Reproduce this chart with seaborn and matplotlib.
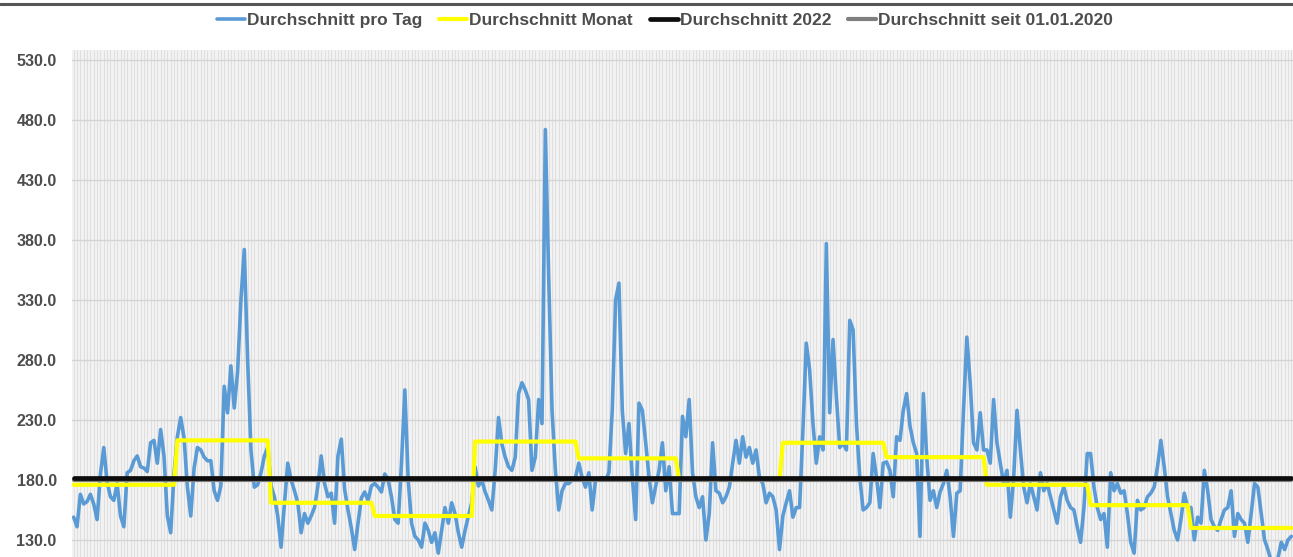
import numpy as np
import pandas as pd
import matplotlib
matplotlib.use("Agg")
import matplotlib.pyplot as plt
import seaborn as sns

# ---- data ----
jan = [149, 141, 168, 160, 162, 168, 160, 147, 185, 207, 178, 166, 163, 177, 150, 141,
       186, 188, 196, 200, 191, 190, 187, 211, 213, 194, 222, 200, 150, 136, 185]
feb = [216, 232, 215, 174, 150, 190, 207, 205, 199, 196, 196, 171, 163, 175, 258, 236,
       275, 240, 270, 330, 372, 280, 205, 174, 176, 186, 200, 207]
mar = [175, 166, 150, 124, 160, 194, 180, 171, 161, 136, 152, 144, 150, 157, 175, 200,
       177, 166, 169, 144, 200, 214, 172, 155, 140, 122, 144, 165, 170, 163, 175]
apr = [177, 174, 170, 185, 180, 166, 147, 144, 194, 255, 180, 144, 133, 130, 124, 144,
       138, 128, 136, 119, 138, 157, 144, 161, 152, 136, 124, 138, 150, 161]
may = [191, 175, 180, 170, 163, 155, 188, 232, 210, 199, 191, 188, 199, 252, 261, 255,
       247, 188, 199, 247, 227, 472, 349, 238, 188, 155, 171, 177, 177, 180, 182]
jun = [194, 182, 174, 186, 155, 180, 180, 182, 180, 186, 238, 330, 344, 238, 202, 227,
       182, 147, 244, 238, 211, 182, 161, 175, 188, 211, 171, 191, 152, 152]
jul = [152, 233, 216, 247, 186, 166, 157, 166, 130, 152, 211, 171, 169, 161, 166, 174,
       194, 213, 194, 216, 199, 207, 194, 205, 182, 177, 161, 169, 166, 155, 122]
aug = [150, 161, 171, 149, 157, 157, 222, 294, 272, 227, 194, 216, 205, 377, 236, 297,
       249, 207, 211, 205, 313, 305, 227, 182, 155, 157, 161, 202, 182, 157, 194]
sep = [195, 188, 166, 216, 213, 238, 252, 225, 211, 202, 133, 252, 199, 163, 171, 157,
       170, 177, 188, 166, 133, 169, 171, 238, 299, 261, 211, 205, 236, 205]
oct_ = [205, 194, 247, 211, 194, 177, 188, 149, 182, 238, 205, 174, 161, 177, 166, 155,
        186, 171, 177, 166, 155, 144, 166, 174, 163, 157, 155, 141, 128, 157, 202]
nov = [202, 174, 157, 147, 152, 124, 186, 171, 177, 169, 171, 152, 128, 119, 163, 155,
       157, 166, 169, 174, 191, 213, 191, 166, 152, 138, 130, 147, 169, 157]
dec = [157, 130, 149, 144, 188, 171, 147, 141, 138, 147, 155, 157, 171, 133, 152, 147,
       144, 128, 152, 177, 174, 152, 130, 122, 112, 108, 115, 128, 122, 130, 133]

monthly_avg = [176, 213, 161, 150, 212, 198, 180, 211, 199, 176, 159, 140]
avg_2022 = 182.0
avg_since_2020 = 180.0

labels = ["Durchschnitt pro Tag", "Durchschnitt Monat",
          "Durchschnitt 2022", "Durchschnitt seit 01.01.2020"]
yticks = [130, 180, 230, 280, 330, 380, 430, 480, 530]

# ---- build table ----
months = [jan, feb, mar, apr, may, jun, jul, aug, sep, oct_, nov, dec]
daily = sum(months, [])
month_len = [len(m) for m in months]
days = np.arange(len(daily))
df = pd.DataFrame({
    "day": days,
    "tag": daily,
    "monat": np.repeat(monthly_avg, month_len),
    "j2022": np.full(len(daily), avg_2022),
    "seit2020": np.full(len(daily), avg_since_2020),
})

sns.set_style("white")
plt.rcParams["font.family"] = ["Liberation Sans", "DejaVu Sans"]

W, H = 1293, 557
fig = plt.figure(figsize=(W / 100, H / 100), dpi=100)
ax = fig.add_axes([72 / W, 0, 1 - 72 / W, 1 - 50 / H])
ax.set_facecolor("#f2f2f2")

# daily vertical grid + horizontal grid
ax.set_xticks(days)
ax.grid(axis="x", color="#dcdcdc", lw=0.6, zorder=0)
ax.set_yticks(yticks)
ax.grid(axis="y", color="#d4d4d4", lw=1.0, zorder=0)
ax.set_axisbelow(True)

sns.lineplot(data=df, x="day", y="tag", ax=ax, color="#5b9bd5", lw=2.6,
             label=labels[0], zorder=3)
sns.lineplot(data=df, x="day", y="monat", ax=ax, color="#ffff00", lw=3.0,
             label=labels[1], zorder=4)
sns.lineplot(data=df, x="day", y="seit2020", ax=ax, color="#7f7f7f", lw=3.0,
             label=labels[3], zorder=5)
sns.lineplot(data=df, x="day", y="j2022", ax=ax, color="#0d0d0d", lw=3.4,
             label=labels[2], zorder=6)

ax.set_xlim(-0.5, len(daily) - 0.5)
ax.set_ylim(115.8, 538.3)
ax.set_xlabel("")
ax.set_ylabel("")
ax.set_xticklabels([])
ax.set_yticklabels([f"{v:.1f}" for v in yticks])
ax.tick_params(axis="x", length=0)
ax.tick_params(axis="y", length=0, pad=11, labelsize=11.5, labelcolor="#4d4d4d")
for t in ax.get_yticklabels():
    t.set_fontweight("bold")
for s in ax.spines.values():
    s.set_visible(False)

handles, labs = ax.get_legend_handles_labels()
order = [labs.index(l) for l in labels]
ax.get_legend().remove()
leg = fig.legend([handles[i] for i in order], [labs[i] for i in order],
                 loc="center", bbox_to_anchor=(665 / W, 1 - 20 / H), ncol=4,
                 frameon=False, prop={"size": 12.5, "weight": "bold"},
                 handlelength=1.6, handletextpad=0.1,
                 columnspacing=1.0, borderaxespad=0)
for t in leg.get_texts():
    t.set_color("#4d4d4d")

# top border line
fig.add_artist(plt.Line2D([0, 1], [1 - 4 / H, 1 - 4 / H], transform=fig.transFigure,
                          color="#555555", lw=2.2))

fig.savefig("out.png", dpi=100, facecolor="white")
